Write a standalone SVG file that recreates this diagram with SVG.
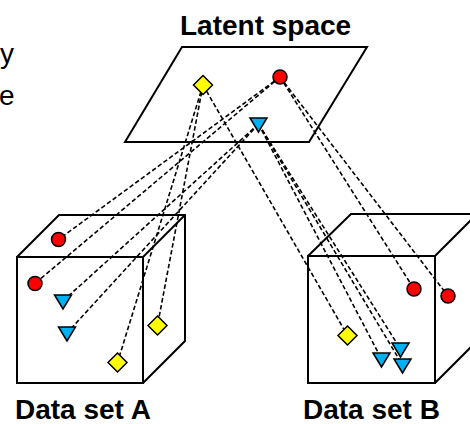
<svg xmlns="http://www.w3.org/2000/svg" width="470" height="424" viewBox="0 0 470 424">
<style>
.edge{fill:none;stroke:#000;stroke-width:2;stroke-linejoin:miter}
.dash{fill:none;stroke:#000;stroke-width:1.6;stroke-dasharray:4.5 2.5}
.lbl{font-family:"Liberation Sans",Arial,sans-serif;font-size:28px;font-weight:bold;fill:#000}
.part{font-family:"Liberation Sans",Arial,sans-serif;font-size:28px;fill:#000}
.r{fill:#FF0000;stroke:#000;stroke-width:1.5}
.y{fill:#FFFF00;stroke:#000;stroke-width:1.5}
.b{fill:#00B0F0;stroke:#000;stroke-width:1.5}
</style>
<defs>
<circle id="circ" r="7" class="r"/>
<path id="dia" d="M0,-9.5 L9.5,0 L0,9.5 L-9.5,0 Z" class="y"/>
<path id="tri" d="M-8.5,-6 L8.5,-6 L0,8 Z" class="b"/>
</defs>
<rect width="470" height="424" fill="#fff"/>
<g id="partial-text">
<text class="part" x="0" y="63">y</text>
<text class="part" x="-1" y="105">e</text>
</g>
<g id="latent-space">
<polygon class="edge" points="182,47 367,47 309,142 125,142"/>
<text class="lbl" x="180" y="35">Latent space</text>
</g>
<g id="data-set-a">
<rect class="edge" x="17" y="257" width="126" height="126"/>
<polyline class="edge" points="17,257 59,215 185,215 185,341 143,383"/>
<line class="edge" x1="143" y1="257" x2="185" y2="215"/>
<text class="lbl" x="15" y="419">Data set A</text>
</g>
<g id="data-set-b">
<rect class="edge" x="308" y="256" width="127" height="127"/>
<polyline class="edge" points="308,256 351,214 480,214"/>
<line class="edge" x1="435" y1="256" x2="478" y2="213"/>
<line class="edge" x1="435" y1="383" x2="478" y2="340"/>
<text class="lbl" x="303" y="419">Data set B</text>
</g>
<g id="connectors">
<line class="dash" x1="280" y1="77" x2="58.5" y2="239.5"/>
<line class="dash" x1="280" y1="77" x2="35" y2="283.5"/>
<line class="dash" x1="280" y1="77" x2="414" y2="289"/>
<line class="dash" x1="280" y1="77" x2="448" y2="296"/>
<line class="dash" x1="203" y1="85" x2="117.5" y2="362.5"/>
<line class="dash" x1="203" y1="85" x2="157.5" y2="325.5"/>
<line class="dash" x1="203" y1="85" x2="347.5" y2="335.5"/>
<line class="dash" x1="258.5" y1="124" x2="63" y2="301"/>
<line class="dash" x1="258.5" y1="124" x2="67" y2="333"/>
<line class="dash" x1="258.5" y1="124" x2="381.5" y2="359"/>
<line class="dash" x1="258.5" y1="124" x2="400.5" y2="349"/>
<line class="dash" x1="258.5" y1="124" x2="402.5" y2="365"/>
</g>
<g id="points-latent">
<use href="#circ" x="280" y="77"/>
<use href="#dia" x="203" y="85"/>
<use href="#tri" x="258.5" y="124"/>
</g>
<g id="points-a">
<use href="#circ" x="58.5" y="239.5"/>
<use href="#circ" x="35" y="283.5"/>
<use href="#tri" x="63" y="301"/>
<use href="#tri" x="67" y="333"/>
<use href="#dia" x="117.5" y="362.5"/>
<use href="#dia" x="157.5" y="325.5"/>
</g>
<g id="points-b">
<use href="#circ" x="414" y="289"/>
<use href="#circ" x="448" y="296"/>
<use href="#dia" x="347.5" y="335.5"/>
<use href="#tri" x="381.5" y="359"/>
<use href="#tri" x="400.5" y="349"/>
<use href="#tri" x="402.5" y="365"/>
</g>
</svg>
